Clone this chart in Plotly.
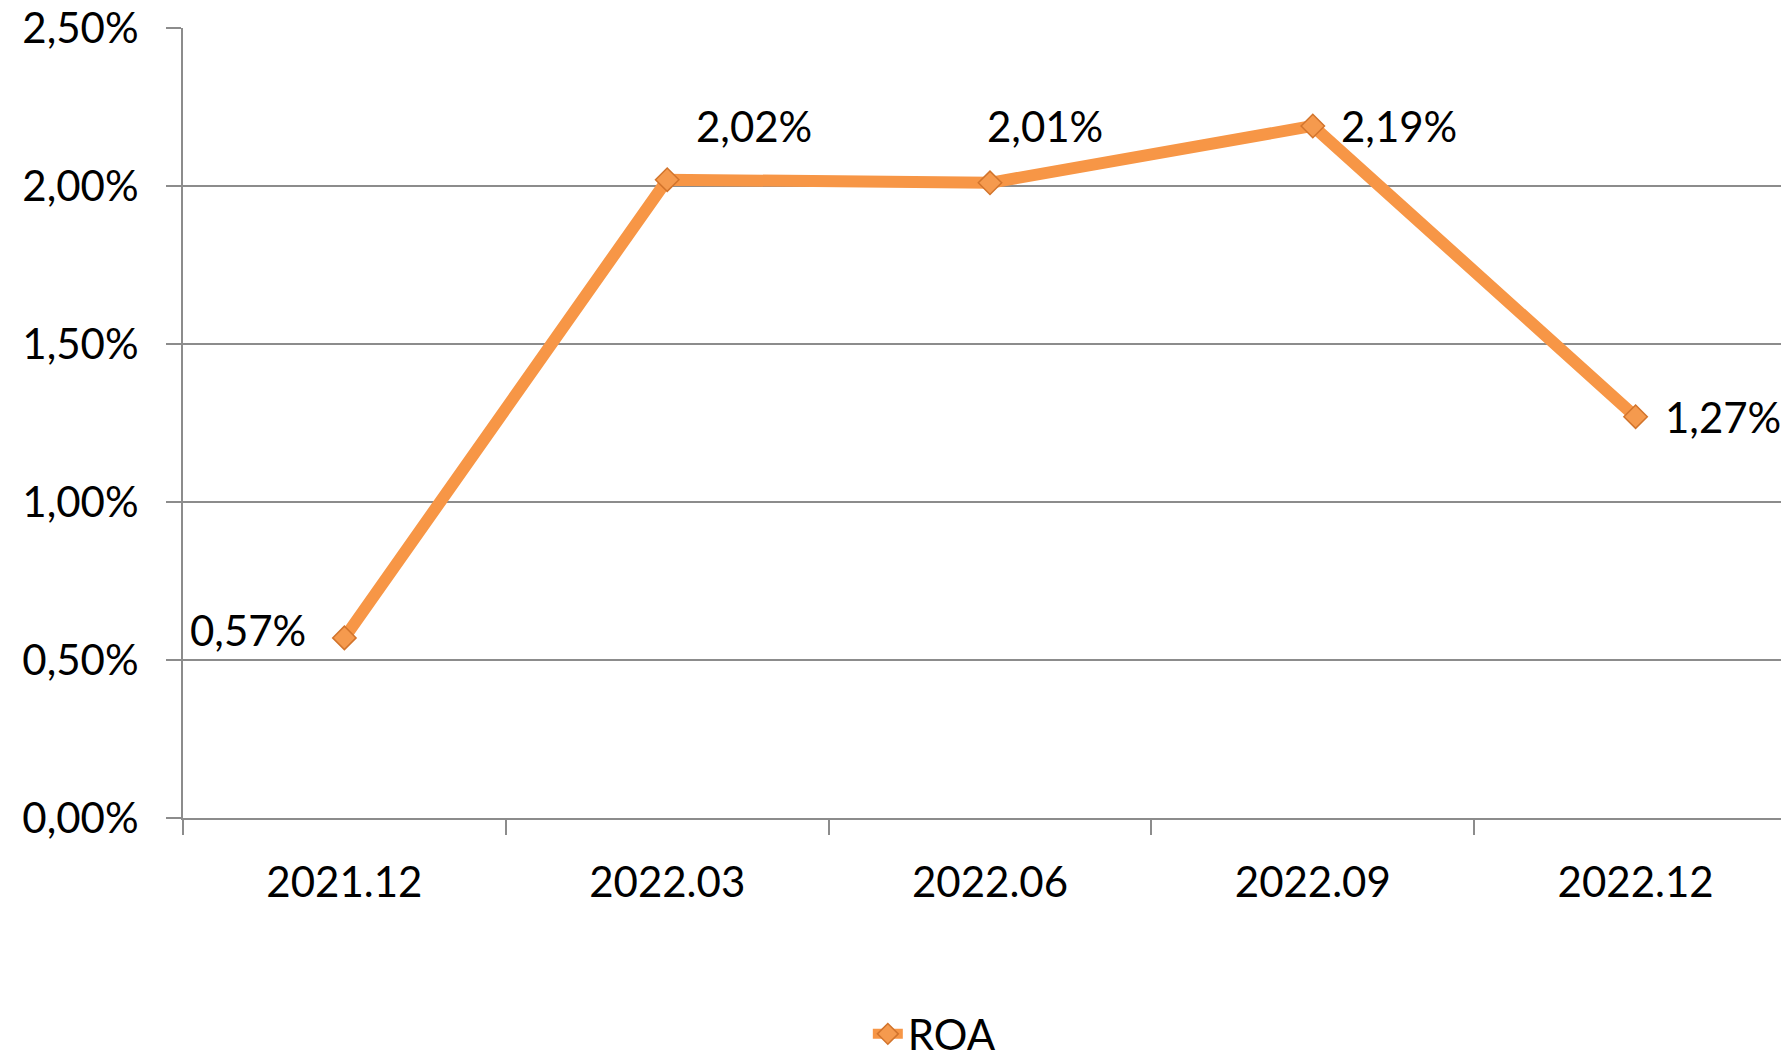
import plotly.graph_objects as go

categories = ["2021.12", "2022.03", "2022.06", "2022.09", "2022.12"]
roa = [0.0057, 0.0202, 0.0201, 0.0219, 0.0127]
y_ticks = [0, 0.005, 0.01, 0.015, 0.02, 0.025]

# label placement (anchor, x offset px, y offset px)
label_anchor = ["right", "left", "left", "left", "left"]
label_dx = [-36, 27, -5, 26, 27]
label_dy = [8, 54, 57, 0, 0]

FONT = "Lato, Carlito, Calibri, sans-serif"
FS = 42
ORANGE = "#F79646"
GRID = "#8C8C8C"

fig = go.Figure()
fig.add_trace(go.Scatter(
    x=categories, y=roa, name="ROA", mode="lines+markers",
    line=dict(color=ORANGE, width=12),
    marker=dict(symbol="diamond", size=18, color="#F59A4E",
                line=dict(color="#D2742C", width=1.5)),
    cliponaxis=False,
))

for i, (v, a, dx, dy) in enumerate(zip(roa, label_anchor, label_dx, label_dy)):
    fig.add_annotation(
        x=i, y=v, xref="x", yref="y",
        text=f"{v*100:.2f}%".replace(".", ","),
        showarrow=False, xanchor=a, yanchor="middle",
        xshift=dx, yshift=dy,
        font=dict(family=FONT, size=FS, color="#000000"),
    )

fig.update_layout(
    width=1789, height=1058,
    margin=dict(l=175, r=0, t=20, b=248, autoexpand=False),
    paper_bgcolor="white", plot_bgcolor="white",
    separators=", ",
    font=dict(family=FONT, size=FS, color="#000000"),
    showlegend=True,
    legend=dict(orientation="h", x=0.4655, xanchor="center", y=-0.2735, yanchor="middle",
                font=dict(family=FONT, size=FS, color="#000000")),
    xaxis=dict(
        type="category", range=[-0.5, 4.5], automargin=False,
        showgrid=False, showline=True, linecolor=GRID, linewidth=2,
        ticks="outside", tickson="boundaries", ticklen=15, tickcolor=GRID, tickwidth=2,
        tickfont=dict(family=FONT, size=FS), zeroline=False,
        ticklabelstandoff=27, ticklabeloverflow="allow",
    ),
    yaxis=dict(
        range=[0, 0.025], tickvals=y_ticks, tickformat=".2%", automargin=False,
        showgrid=True, gridcolor=GRID, gridwidth=2,
        showline=True, linecolor=GRID, linewidth=2,
        ticks="outside", ticklen=15, tickcolor=GRID, tickwidth=2,
        tickfont=dict(family=FONT, size=FS), zeroline=False,
        ticklabelstandoff=19, ticklabeloverflow="allow",
    ),
)

fig.write_html("out.html")
